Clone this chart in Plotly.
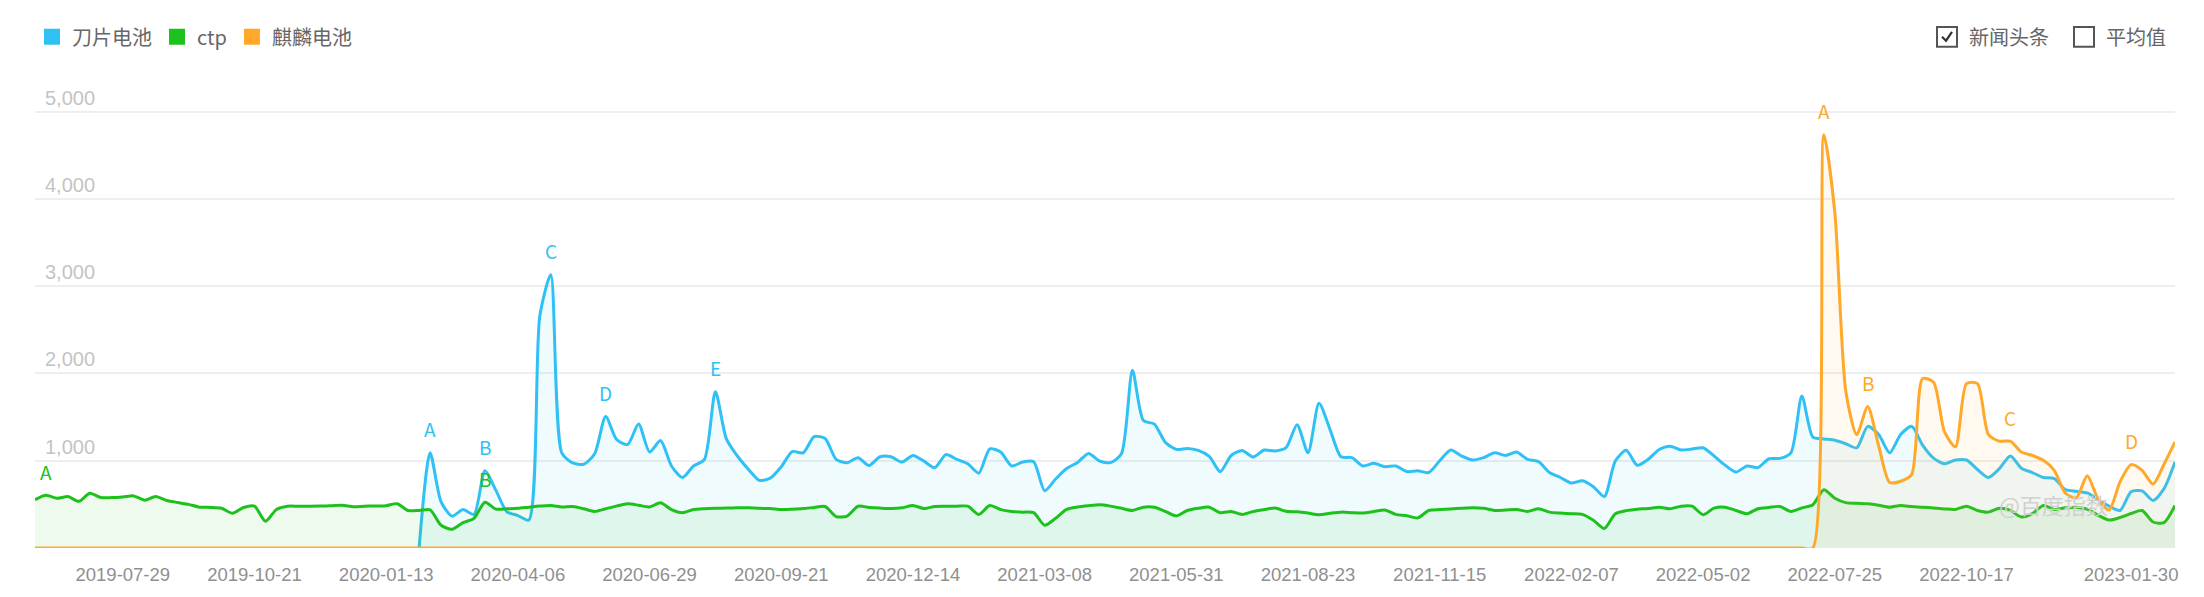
import pandas as pd
import plotly.graph_objects as go

# ---------------- data ----------------
start_date = "2019-06-03"
n_weeks = 196
dates = pd.date_range(start_date, periods=n_weeks, freq="7D")

tick_labels = ["2019-07-29", "2019-10-21", "2020-01-13", "2020-04-06", "2020-06-29",
               "2020-09-21", "2020-12-14", "2021-03-08", "2021-05-31", "2021-08-23",
               "2021-11-15", "2022-02-07", "2022-05-02", "2022-07-25", "2022-10-17",
               "2023-01-30"]

y_ticks = [1000, 2000, 3000, 4000, 5000]

series_names = ["刀片电池", "ctp", "麒麟电池"]

# 刀片电池 (no data before week 35)
blade_values = [None] * 35 + [
    0, 1090, 530, 365, 440, 385, 884, 660, 415, 372,
    320, 2660, 3130, 1091, 975, 960, 1080, 1507, 1243, 1186,
    1420, 1100, 1231, 940, 808, 940, 1016, 1790, 1250, 1054,
    903, 775, 800, 930, 1105, 1091, 1275, 1255, 1016, 978,
    1035, 945, 1046, 1046, 985, 1061, 995, 921, 1070, 1016,
    965, 858, 1136, 1100, 940, 986, 989, 657, 790, 910,
    980, 1084, 997, 978, 1080, 2036, 1460, 1420, 1210, 1130,
    1141, 1118, 1050, 875, 1060, 1118, 1042, 1122, 1112, 1150,
    1413, 1091, 1658, 1360, 1046, 1035, 940, 970, 932, 940,
    876, 884, 865, 1000, 1122, 1054, 1008, 1035, 1091, 1061,
    1099, 1016, 990, 865, 808, 744, 770, 702, 589, 997,
    1120, 948, 1016, 1129, 1167, 1122, 1135, 1148, 1054, 950,
    870, 940, 921, 1023, 1027, 1091, 1741, 1270, 1250, 1235,
    1195, 1148, 1394, 1300, 1091, 1300, 1394, 1180, 1030, 965,
    1008, 1008, 900, 808, 910, 1054, 915, 865, 808, 795,
    670, 650, 631, 555, 480, 430, 645, 655, 544, 680, 986,
]

ctp_values = [
    555, 605, 570, 589, 535, 627, 578, 578, 585, 597,
    548, 589, 544, 521, 500, 468, 465, 455, 397, 464,
    479, 306, 442, 479, 479, 479, 480, 485, 491, 472,
    478, 482, 485, 508, 430, 430, 438, 261, 215, 290,
    340, 525, 445, 450, 455, 468, 480, 487, 470, 475,
    450, 419, 450, 480, 506, 490, 470, 518, 440, 404,
    440, 450, 455, 458, 461, 461, 455, 452, 440, 445,
    452, 465, 476, 360, 366, 479, 465, 457, 452, 460,
    487, 452, 476, 478, 479, 479, 385, 487, 440, 418,
    411, 405, 261, 340, 442, 470, 485, 495, 480, 455,
    430, 468, 468, 420, 368, 430, 455, 468, 404, 419,
    385, 419, 440, 457, 420, 414, 400, 382, 398, 411,
    405, 400, 418, 435, 385, 370, 345, 430, 440, 448,
    455, 460, 455, 430, 436, 442, 419, 450, 411, 400,
    392, 385, 317, 223, 393, 428, 445, 452, 468, 450,
    479, 479, 382, 457, 468, 430, 393, 450, 465, 476,
    419, 460, 495, 668, 570, 520, 512, 506, 490, 468,
    487, 475, 468, 458, 448, 442, 479, 430, 411, 455,
    430, 355, 393, 487, 442, 460, 468, 445, 374, 320,
    350, 395, 430, 298, 291, 487,
]

qilin_values = [0] * 163 + [
    4736, 3850, 1800, 1300, 1620, 1170, 751, 765, 840, 1941,
    1900, 1330, 1160, 1884, 1884, 1300, 1224, 1224, 1100, 1061,
    1005, 890, 630, 575, 827, 560, 435, 760, 955, 890,
    733, 960, 1216,
]

# news headline markers: (series index, week index, letter)
news_marks = [
    (0, 36, "A"), (0, 41, "B"), (0, 47, "C"), (0, 52, "D"), (0, 62, "E"),
    (1, 1, "A"), (1, 41, "B"),
    (2, 163, "A"), (2, 167, "B"), (2, 180, "C"), (2, 191, "D"),
]

# ---------------- style ----------------
line_colors = ["#2fc1f5", "#1cc11c", "#ffa82a"]
fill_colors = ["rgba(47,193,245,0.07)", "rgba(28,193,28,0.08)", "rgba(255,168,42,0.07)"]
W, H = 2204, 597
L, R, B = 35, 29, 44
Y_MAX = 5500
T = 553 - (553 - 111.7) * Y_MAX / 5000.0
num_font = "Liberation Sans, Arial, Noto Sans CJK SC, sans-serif"
cjk_font = "Noto Sans CJK SC, Microsoft YaHei, sans-serif"

all_values = [blade_values, ctp_values, qilin_values]

fig = go.Figure()
for name, vals, lc, fc in zip(series_names, all_values, line_colors, fill_colors):
    fig.add_trace(go.Scatter(
        x=dates, y=vals, name=name, mode="lines",
        line=dict(color=lc, width=3, shape="spline", smoothing=0.7),
        fill="tozeroy", fillcolor=fc, showlegend=False, hoverinfo="x+y",
        connectgaps=False,
    ))

# legend entries (square swatches)
for name, lc in zip(series_names, line_colors):
    fig.add_trace(go.Scatter(
        x=[None], y=[None], name=name, mode="markers",
        marker=dict(symbol="square", size=20, color=lc), showlegend=True,
    ))

# letters above news points
for s, i, letter in news_marks:
    fig.add_annotation(
        x=dates[i], y=all_values[s][i], text=letter, showarrow=False,
        yshift=24, font=dict(family=cjk_font, size=19, color=line_colors[s]),
    )


def px2paper(px, py):
    return (px - L) / (W - L - R), (H - B - py) / (H - B - T)


# watermark
wx, wy = px2paper(2110, 527)
fig.add_annotation(x=wx, y=wy, xref="paper", yref="paper", text="@百度指数",
                   showarrow=False, font=dict(family=cjk_font, size=22, color="#d0d0d0"))

# top-right checkboxes
for (x0, label, checked) in [(1937, "新闻头条", True), (2074, "平均值", False)]:
    a0 = px2paper(x0, 26)
    a1 = px2paper(x0 + 20, 46)
    fig.add_shape(type="rect", xref="paper", yref="paper",
                  x0=a0[0], y0=a1[1], x1=a1[0], y1=a0[1],
                  line=dict(color="#555555", width=2), fillcolor="white")
    if checked:
        p1 = px2paper(x0 + 5, 36)
        p2 = px2paper(x0 + 9, 40)
        p3 = px2paper(x0 + 15, 31)
        fig.add_shape(type="path", xref="paper", yref="paper",
                      path=f"M {p1[0]},{p1[1]} L {p2[0]},{p2[1]} L {p3[0]},{p3[1]}",
                      line=dict(color="#333333", width=2.2))
    tx, ty = px2paper(x0 + 30, 36)
    fig.add_annotation(x=tx, y=ty, xref="paper", yref="paper", text=label,
                       showarrow=False, xanchor="left", yanchor="middle",
                       font=dict(family=cjk_font, size=20, color="#666666"))

lx, ly = px2paper(32, 36)
fig.update_layout(
    width=W, height=H,
    margin=dict(l=L, r=R, t=T, b=B, pad=0),
    paper_bgcolor="white", plot_bgcolor="white",
    legend=dict(orientation="h", x=lx, y=ly, xanchor="left", yanchor="middle",
                font=dict(family=cjk_font, size=20, color="#666666"),
                itemwidth=30, bgcolor="rgba(0,0,0,0)"),
    xaxis=dict(
        type="date", range=[dates[0], dates[-1]],
        tickvals=pd.to_datetime(tick_labels), ticktext=tick_labels,
        showgrid=False, zeroline=False, showline=False, ticks="",
        ticklabelstandoff=13,
        tickfont=dict(family=num_font, size=18.5, color="#8f8f8f"),
    ),
    yaxis=dict(
        range=[0, Y_MAX], tickvals=y_ticks, tickformat=",d",
        showgrid=True, gridcolor="#eeeeee", gridwidth=1.5, zeroline=False,
        showline=False, ticks="", ticklabelposition="inside top",
        ticklabelstandoff=7,
        tickfont=dict(family=num_font, size=20, color="#c4c4c4"),
    ),
)

fig.write_html("out.html", config={"displayModeBar": False},
               post_script="document.body.style.margin='0';")
